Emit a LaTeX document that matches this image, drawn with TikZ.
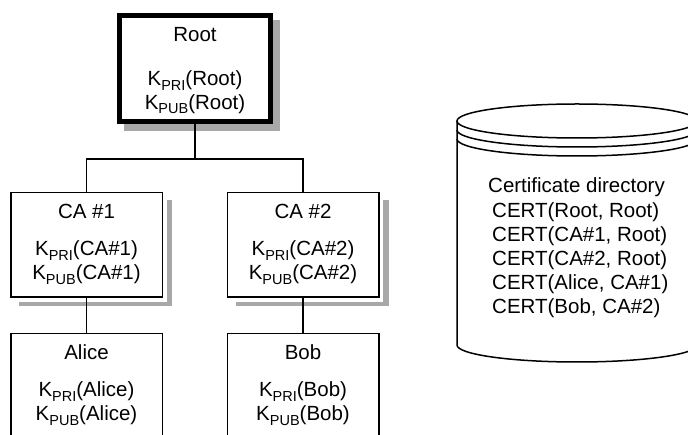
\documentclass[tikz,border=0pt]{standalone}
\usepackage{fontspec}
\setmainfont{Liberation Sans}
\definecolor{shadowgray}{RGB}{168,168,168}
\newcommand{\subtxt}[1]{\raisebox{-4.5pt}{\fontsize{14.5}{14.5}\selectfont #1}}
\pgfdeclarelayer{bg}
\pgfsetlayers{bg,main}
\begin{document}
\begin{tikzpicture}[x=1pt,y=-1pt,
  txt/.style={anchor=base, inner sep=0pt, font=\fontsize{20.5}{24}\selectfont},
  ltxt/.style={txt, anchor=base west},
  thinbox/.style={draw, fill=white, line width=1.5pt, minimum width=151.5pt, minimum height=104.5pt, inner sep=0pt, preaction={draw=white, line width=9pt}},
  rootbox/.style={draw, fill=white, line width=5pt, minimum width=151pt, minimum height=106pt, inner sep=0pt},
  conn/.style={line width=1.5pt},
  cyl/.style={line width=1.5pt},
  shade/.style={fill=shadowgray}]
\useasboundingbox (0,0) rectangle (688,435);
\clip (0,0) rectangle (688,435);

% boxes
\node[rootbox] (root) at (195,68.5) {};
\node[thinbox] (ca1) at (86.5,245) {};
\node[thinbox] (ca2) at (303,245) {};
\node[thinbox, minimum height=130pt] (alice) at (86.5,398.75) {};
\node[thinbox, minimum height=130pt] (bob) at (303,398.75) {};

% shadows
\begin{pgfonlayer}{bg}
\fill[shade] ([shift={(7,7)}]root.south west) rectangle ([shift={(7,7)}]root.north east);
\fill[shade] ([shift={(9,8)}]ca1.south west) rectangle ([shift={(9,8)}]ca1.north east);
\fill[shade] ([shift={(9,8)}]ca2.south west) rectangle ([shift={(9,8)}]ca2.north east);
\end{pgfonlayer}

% texts
\node[txt] (roott) at (195,41.7) {Root};
\node[txt] (rootpri) at (195,86) {K\subtxt{PRI}(Root)};
\node[txt] (rootpub) at (195,109.5) {K\subtxt{PUB}(Root)};

\node[txt] (ca1t) at (86.5,218.5) {CA \#1};
\node[txt] (ca1pri) at (86.5,256) {K\subtxt{PRI}(CA\#1)};
\node[txt] (ca1pub) at (86.5,280) {K\subtxt{PUB}(CA\#1)};

\node[txt] (ca2t) at (303,218.5) {CA \#2};
\node[txt] (ca2pri) at (303,256) {K\subtxt{PRI}(CA\#2)};
\node[txt] (ca2pub) at (303,280) {K\subtxt{PUB}(CA\#2)};

\node[txt] (alicet) at (86.5,360) {Alice};
\node[txt] (alicepri) at (86.5,397) {K\subtxt{PRI}(Alice)};
\node[txt] (alicepub) at (86.5,420.7) {K\subtxt{PUB}(Alice)};

\node[txt] (bobt) at (303,360) {Bob};
\node[txt] (bobpri) at (303,397) {K\subtxt{PRI}(Bob)};
\node[txt] (bobpub) at (303,420.7) {K\subtxt{PUB}(Bob)};

% connectors
\coordinate (j) at (195,159);
\draw[conn] (root.south) -- (j);
\draw[conn] (ca1.north) |- (j) -| (ca2.north);
\draw[conn] (ca1.south) -- (alice.north);
\draw[conn] (ca2.south) -- (bob.north);

% certificate directory cylinder
\draw[cyl] (577,121) ellipse [x radius=120, y radius=17];
\draw[cyl] (457,130) arc[start angle=180, end angle=0, x radius=120, y radius=17];
\draw[cyl] (457,139) arc[start angle=180, end angle=0, x radius=120, y radius=17];
\draw[cyl] (697,121) -- (697,345) arc[start angle=0, end angle=180, x radius=120, y radius=17] -- (457,121);

\node[ltxt] (cd) at (488,193) {Certificate directory};
\node[ltxt] (c1) at (492,217.2) {CERT(Root, Root)};
\node[ltxt] (c2) at (492,241.4) {CERT(CA\#1, Root)};
\node[ltxt] (c3) at (492,265.6) {CERT(CA\#2, Root)};
\node[ltxt] (c4) at (492,289.8) {CERT(Alice, CA\#1)};
\node[ltxt] (c5) at (492,314) {CERT(Bob, CA\#2)};
\end{tikzpicture}
\end{document}
